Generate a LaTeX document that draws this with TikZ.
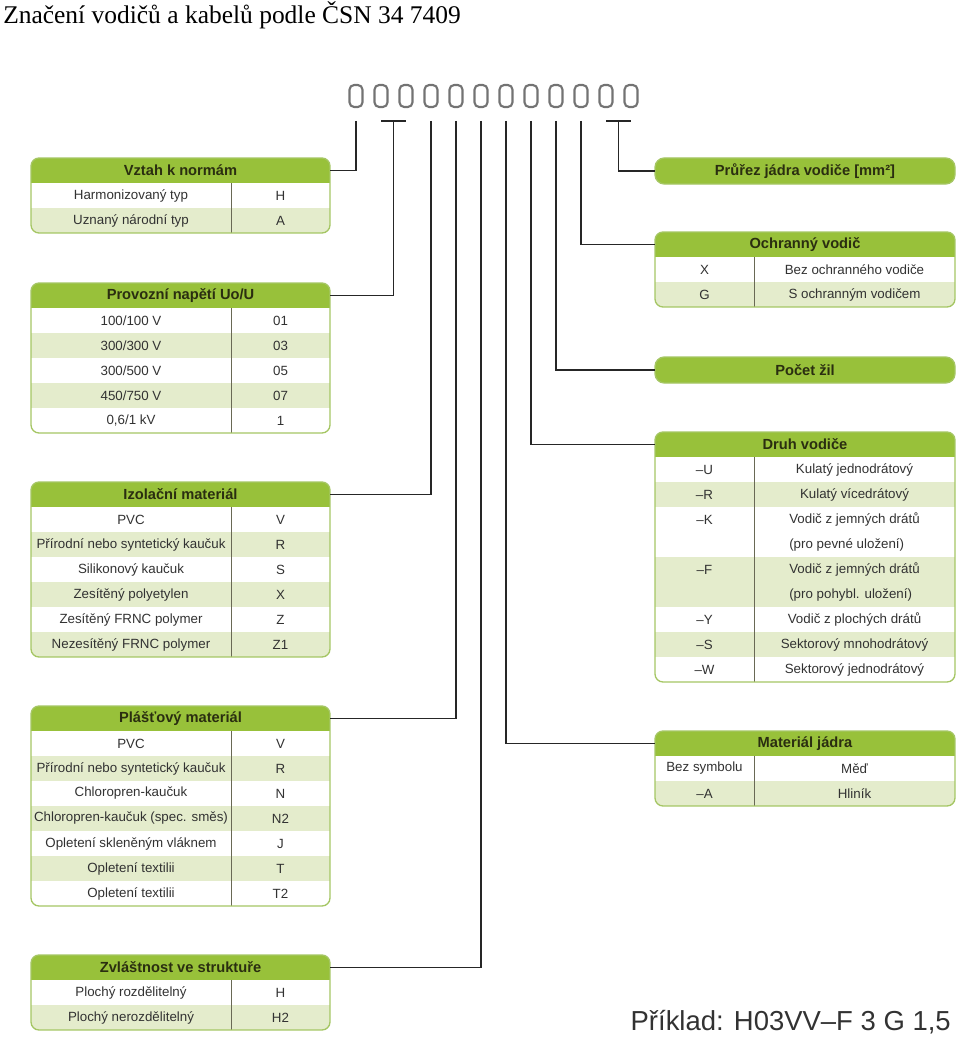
\documentclass[tikz,border=0pt]{standalone}
\usepackage{fontspec}
\setmainfont{Liberation Sans}
\newfontfamily\titlefont{Liberation Serif}
\usetikzlibrary{calc}
\definecolor{hdrgreen}{RGB}{152,193,58}
\definecolor{rowgreen}{RGB}{228,236,204}
\definecolor{tabline}{RGB}{165,198,100}
\definecolor{hdrtext}{RGB}{42,46,16}
\definecolor{celltext}{RGB}{50,50,50}
\definecolor{divline}{RGB}{105,105,85}

% #1 name, #2 left, #3 split, #4 right, #5 top, #6 row units, #7 title, #8 rows (start/height/left/right)
\newcommand{\codetab}[8]{%
  \pgfmathsetmacro{\tabbot}{#5+25+25*#6}%
  \begin{scope}
    \clip[rounded corners=6pt] (#2,#5) rectangle (#4,\tabbot);
    \fill[white] (#2,#5) rectangle (#4,\tabbot);
    \foreach \rk/\rh/\ca/\cb [count=\i] in {#8}{%
      \pgfmathsetmacro{\ya}{#5+25+25*\rk}%
      \pgfmathsetmacro{\yb}{\ya+25*\rh}%
      \ifodd\i\relax\else\fill[rowgreen] (#2,\ya) rectangle (#4,\yb);\fi
      \node[cell] (#1-a\i) at ({(#2+#3)/2},\ya+12.5) {\ca};
      \node[cell] (#1-b\i) at ({(#3+#4)/2},{(\ya+\yb)/2}) {\cb};
    }
    \fill[hdrgreen] (#2,#5) rectangle (#4,#5+25);
  \end{scope}
  \draw[divline] (#3,#5+25) -- (#3,\tabbot);
  \draw[tabline,line width=1pt,rounded corners=6pt] (#2,#5) rectangle (#4,\tabbot);
  \node[hdr,minimum width={(#4-#2)*0.75pt}] (#1) at ({(#2+#4)/2},#5+12.5) {#7};
}

\begin{document}
\begin{tikzpicture}[x=0.75pt,y=-0.75pt,
    lead/.style={draw=black!85,line width=0.9pt},
    digit/.style={draw=black!55,line width=1.6pt,rounded corners=3.5pt,
      minimum width=9.75pt,minimum height=16.5pt,inner sep=0pt},
    cell/.style={font=\fontsize{10}{18.75}\selectfont,text=celltext,align=left,inner sep=0pt},
    hdr/.style={font=\fontsize{11}{13}\selectfont\bfseries,text=hdrtext,
      inner sep=0pt,outer sep=0pt,minimum height=18.75pt},
    pill/.style={fill=hdrgreen,draw=tabline,line width=1pt,rounded corners=7pt,minimum height=19.5pt}]
  \useasboundingbox (0,0) rectangle (960,1038);

  \node[font=\titlefont\fontsize{19.1}{22}\selectfont,anchor=base west,inner sep=0pt]
    (title) at (3,24) {Značení vodičů a kabelů podle ČSN 34 7409};

  % code positions
  \foreach \n in {1,...,12}
    \node[digit] (d\n) at (331+25*\n,96) {};

  % left column
  \codetab{vztah}{31}{231}{330}{158}{2}{Vztah k normám}
    {0/1/Harmonizovaný typ/H, 1/1/Uznaný národní typ/A}
  \codetab{napeti}{31}{231}{330}{283}{5}{Provozní napětí Uo/U}
    {0/1/{100/100 V}/01, 1/1/{300/300 V}/03, 2/1/{300/500 V}/05,
     3/1/{450/750 V}/07, 4/1/{0,6/1 kV}/1}
  \codetab{izolace}{31}{231}{330}{482}{6}{Izolační materiál}
    {0/1/PVC/V, 1/1/Přírodní nebo syntetický kaučuk/R, 2/1/Silikonový kaučuk/S,
     3/1/Zesítěný polyetylen/X, 4/1/Zesítěný FRNC polymer/Z, 5/1/Nezesítěný FRNC polymer/Z1}
  \codetab{plast}{31}{231}{330}{706}{7}{Plášťový materiál}
    {0/1/PVC/V, 1/1/Přírodní nebo syntetický kaučuk/R, 2/1/Chloropren-kaučuk/N,
     3/1/Chloropren-kaučuk (spec. směs)/N2, 4/1/Opletení skleněným vláknem/J,
     5/1/Opletení textilii/T, 6/1/Opletení textilii/T2}
  \codetab{struktura}{31}{231}{330}{955}{2}{Zvláštnost ve struktuře}
    {0/1/Plochý rozdělitelný/H, 1/1/Plochý nerozdělitelný/H2}

  % right column
  \node[hdr,pill,minimum width=225pt] (prurez) at (805,171) {Průřez jádra vodiče [mm²]};
  \codetab{ochrana}{655}{754}{955}{232}{2}{Ochranný vodič}
    {0/1/X/Bez ochranného vodiče, 1/1/G/S ochranným vodičem}
  \node[hdr,pill,minimum width=225pt] (pocet) at (805,370) {Počet žil};
  \codetab{druh}{655}{754}{955}{432}{9}{Druh vodiče}
    {0/1/–U/Kulatý jednodrátový, 1/1/–R/Kulatý vícedrátový,
     2/2/–K/{Vodič z jemných drátů\\(pro pevné uložení)},
     4/2/–F/{Vodič z jemných drátů\\(pro pohybl. uložení)},
     6/1/–Y/Vodič z plochých drátů, 7/1/–S/Sektorový mnohodrátový,
     8/1/–W/Sektorový jednodrátový}
  \codetab{jadro}{655}{754}{955}{731}{2}{Materiál jádra}
    {0/1/Bez symbolu/Měď, 1/1/–A/Hliník}

  % leaders
  \coordinate (bar) at (0,121);
  \draw[lead] (d1 |- bar) |- (vztah.east);
  \draw[lead] (d2 |- bar) -- (d3 |- bar);
  \draw[lead] ($(d2 |- bar)!.5!(d3 |- bar)$) |- (napeti.east);
  \draw[lead] (d4 |- bar) |- (izolace.east);
  \draw[lead] (d5 |- bar) |- (plast.east);
  \draw[lead] (d6 |- bar) |- (struktura.east);
  \draw[lead] (d7 |- bar) |- (jadro.west);
  \draw[lead] (d8 |- bar) |- (druh.west);
  \draw[lead] (d9 |- bar) |- (pocet.west);
  \draw[lead] (d10 |- bar) |- (ochrana.west);
  \draw[lead] (d11 |- bar) -- (d12 |- bar);
  \draw[lead] ($(d11 |- bar)!.5!(d12 |- bar)$) |- (prurez.west);

  \node[font=\fontsize{20.6}{24}\selectfont,text=celltext,anchor=base east,inner sep=0pt]
    (priklad) at (951,1030) {Příklad: H03VV–F 3 G 1,5};
\end{tikzpicture}
\end{document}
